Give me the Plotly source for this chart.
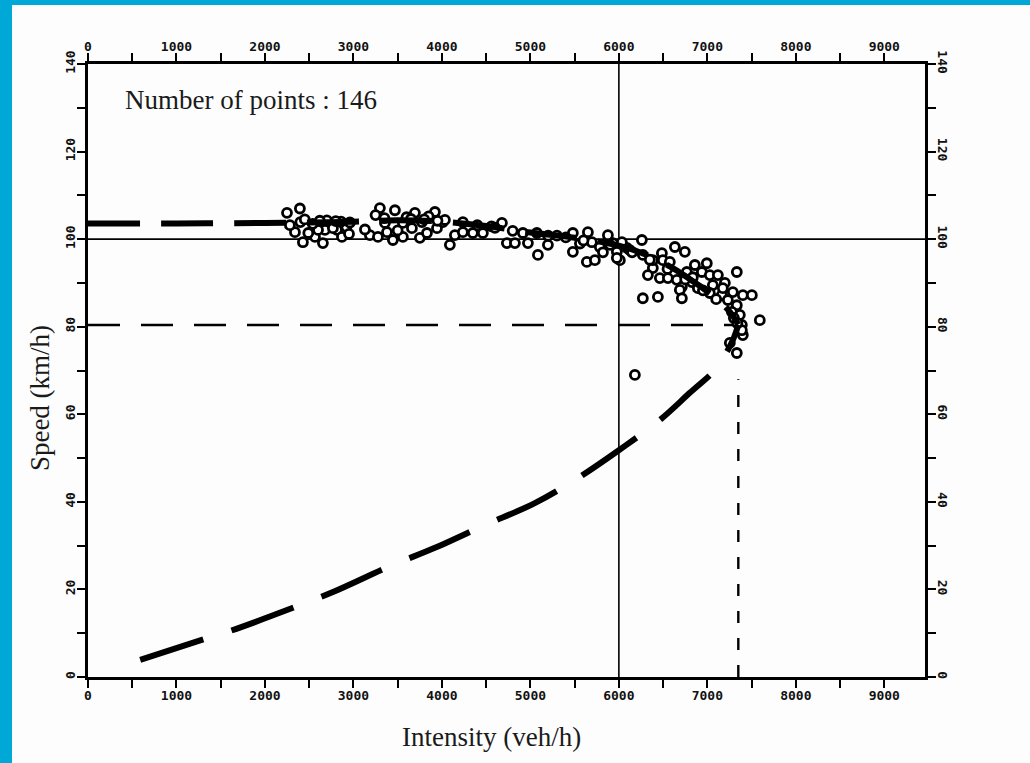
import plotly.graph_objects as go

# ---------------- data ----------------
x_ticks = [0, 1000, 2000, 3000, 4000, 5000, 6000, 7000, 8000, 9000]
x_minor = [500, 1500, 2500, 3500, 4500, 5500, 6500, 7500, 8500, 9500]
y_ticks = [0, 20, 40, 60, 80, 100, 120, 140]
y_minor = [10, 30, 50, 70, 90, 110, 130]
x_max = 9460
y_max = 140

flow_pts = [
    2249, 2395, 2339, 2429, 2655, 2565, 2814, 2870, 2678, 2768,
    2282, 2490, 2600, 2920, 2540, 2700, 2860, 2960, 2400, 2950,
    3299, 3469, 3695, 3921, 3186, 3277, 3379, 3446, 3559, 3661,
    3751, 3831, 3944, 4011, 4090, 4147, 4237, 3356, 3559, 3774,
    3250, 3600, 3850, 3130, 3500,
    4034, 4350, 4463, 4678, 4734, 4825, 4972, 5073, 5085, 5198,
    5480, 5480, 5650, 5638, 5729, 5695, 5876, 6011, 5932, 5785,
    6090, 4237, 4915, 4560, 5300, 5560, 5820,
    6633, 6746, 6486, 6497, 6576, 6384, 6328, 6463, 6554, 6655,
    6712, 6825, 6859, 6994, 6938, 7028, 7119, 7062, 7198, 7333,
    7288, 7401, 7503, 7164, 7028, 6689, 6271, 6441, 6712, 7333,
    7367, 7593, 7390, 7254, 7333, 7401, 7390, 5977, 6034, 6124,
    6260, 6271, 6384, 6768, 6836, 6893, 7175, 7232, 7277, 6181,
    5977,
    2450, 2620, 2800, 3350, 3650, 3800, 3950, 4400, 4600, 4800,
    5200, 5400, 5600, 5900, 6150, 6350, 6550, 6750, 6950, 7100,
    7300, 7340,
]
speed_pts = [
    106.0, 107.0, 101.6, 99.3, 99.1, 100.5, 102.1, 100.5, 102.1, 102.5,
    103.2, 101.4, 102.1, 102.8, 103.5, 104.3, 104.0, 103.8, 103.9, 101.2,
    107.1, 106.6, 106.0, 106.2, 100.9, 100.5, 101.6, 99.8, 100.5, 102.5,
    100.3, 101.4, 102.5, 103.9, 98.7, 100.9, 101.6, 103.7, 103.7, 103.9,
    105.5, 105.0, 105.2, 102.2, 102.0,
    104.4, 101.4, 101.4, 103.7, 99.1, 99.1, 99.1, 101.4, 96.4, 98.7,
    101.4, 97.1, 101.6, 94.8, 95.2, 99.3, 100.9, 95.2, 99.1, 98.2,
    98.0, 103.9, 101.4, 102.9, 100.8, 99.0, 97.0,
    98.2, 97.1, 96.8, 95.2, 94.8, 93.4, 91.8, 91.1, 91.1, 90.7,
    89.1, 90.2, 94.1, 94.5, 92.5, 91.8, 91.8, 89.5, 90.0, 92.5,
    87.9, 87.2, 87.2, 87.2, 87.7, 88.4, 86.5, 86.8, 86.5, 84.9,
    82.7, 81.5, 80.4, 76.3, 74.0, 78.1, 79.2, 97.1, 99.3, 97.5,
    99.8, 96.4, 95.2, 92.5, 91.3, 88.8, 88.8, 86.1, 83.4, 69.0,
    95.7,
    104.5, 104.2, 104.1, 104.8, 104.6, 104.5, 104.2, 103.2, 102.6, 101.9,
    100.8, 100.4, 99.7, 98.7, 97.0, 95.3, 93.2, 90.8, 88.3, 86.3,
    82.0, 80.8,
]

fit_upper_flow = [0, 1000, 2000, 2500, 3000, 3500, 4000, 4500, 5000, 5500,
                  6000, 6300, 6600, 6900, 7100, 7250, 7350]
fit_upper_speed = [103.6, 103.6, 103.7, 103.8, 104.0, 104.3, 104.0, 103.0, 101.5, 100.3,
                   98.5, 96.5, 93.5, 89.5, 86.5, 83.5, 80.5]
fit_lower_flow = [590, 1322, 1605, 2316, 2768, 3412, 3921, 4463, 5050, 5480,
                  6000, 6463, 6802, 7085, 7200, 7300, 7350]
fit_lower_speed = [3.9, 8.7, 10.5, 15.8, 19.4, 25.3, 29.5, 34.5, 39.7, 44.7,
                   51.8, 58.7, 64.9, 70.1, 73.5, 77.5, 80.4]

ref_speed = 100
ref_flow = 6000
crit_speed = 80.4
cap_flow = 7350
cap_line_top = 68

# ---------------- figure ----------------
fig = go.Figure()

# thin reference lines
fig.add_trace(go.Scatter(x=[0, x_max], y=[ref_speed, ref_speed], mode="lines",
                         line=dict(color="black", width=1.6), hoverinfo="skip", cliponaxis=False))
fig.add_trace(go.Scatter(x=[ref_flow, ref_flow], y=[0, y_max], mode="lines",
                         line=dict(color="black", width=1.6), hoverinfo="skip"))
# dashed critical speed / capacity lines
fig.add_trace(go.Scatter(x=[0, cap_flow], y=[crit_speed, crit_speed], mode="lines",
                         line=dict(color="black", width=2.6, dash="32px,21px"), hoverinfo="skip"))
fig.add_trace(go.Scatter(x=[cap_flow, cap_flow], y=[0, cap_line_top], mode="lines",
                         line=dict(color="black", width=2.4, dash="12px,15px"), hoverinfo="skip"))

# observations
fig.add_trace(go.Scatter(x=flow_pts, y=speed_pts, mode="markers",
                         marker=dict(symbol="circle", size=9, color="white",
                                     line=dict(color="black", width=2.8)),
                         hoverinfo="skip"))

# fitted curve
fig.add_trace(go.Scatter(x=fit_upper_flow, y=fit_upper_speed, mode="lines",
                         line=dict(color="black", width=6, dash="52px,21px", shape="spline"),
                         hoverinfo="skip", cliponaxis=False))
fig.add_trace(go.Scatter(x=fit_lower_flow, y=fit_lower_speed, mode="lines",
                         line=dict(color="black", width=6, dash="66px,30px", shape="spline"),
                         hoverinfo="skip"))

# dummy trace for top/right axes
fig.add_trace(go.Scatter(x=[None], y=[None], xaxis="x2", yaxis="y2", mode="markers",
                         showlegend=False, hoverinfo="skip"))

tick_font = dict(family="DejaVu Sans Mono", size=13, color="#111", weight="bold")
common = dict(showline=True, linewidth=2.5, linecolor="black", showgrid=False,
              zeroline=False, ticks="outside", ticklen=8, tickwidth=2, tickcolor="black",
              tickfont=tick_font, automargin=False, fixedrange=True,
              ticklabelstandoff=-3)

fig.update_layout(
    width=1030, height=763,
    margin=dict(l=88, r=105, t=64, b=86, pad=0),
    paper_bgcolor="#fdfdfd", plot_bgcolor="#fdfdfd",
    showlegend=False,
    template="none",
    xaxis=dict(range=[0, x_max], tickvals=x_ticks, tickformat="d",
               minor=dict(tickvals=x_minor, ticks="outside", ticklen=8, tickwidth=2,
                          tickcolor="black"),
               **common),
    xaxis2=dict(range=[0, x_max], tickvals=x_ticks, tickformat="d", overlaying="x",
                side="top", anchor="y",
                minor=dict(tickvals=x_minor, ticks="outside", ticklen=8, tickwidth=2,
                           tickcolor="black"),
                **common),
    yaxis=dict(range=[0, y_max], tickvals=y_ticks, tickangle=-90,
               minor=dict(tickvals=y_minor, ticks="outside", ticklen=8, tickwidth=2,
                          tickcolor="black"),
               **common),
    yaxis2=dict(range=[0, y_max], tickvals=y_ticks, tickangle=90, overlaying="y",
                side="right", anchor="x",
                minor=dict(tickvals=y_minor, ticks="outside", ticklen=8, tickwidth=2,
                           tickcolor="black"),
                **common),
)

serif = dict(family="Liberation Serif", size=27, color="#1a1a1a")
fig.add_annotation(text="Number of points : 146", xref="paper", yref="paper",
                   x=0.0418, y=0.9413, xanchor="left", yanchor="middle",
                   showarrow=False, font=serif)
fig.add_annotation(text="Intensity (veh/h)", xref="paper", yref="paper",
                   x=0.4815, y=-0.098, xanchor="center", yanchor="middle",
                   showarrow=False, font=serif)
fig.add_annotation(text="Speed (km/h)", xref="paper", yref="paper",
                   x=-0.0573, y=0.455, xanchor="center", yanchor="middle",
                   textangle=-90, showarrow=False, font=serif)

# blue frame strips (left and top)
blue = "#00A8D8"
fig.add_shape(type="rect", xref="paper", yref="paper", x0=-0.1052, x1=-0.0908,
              y0=-0.15, y1=1.11, fillcolor=blue, line=dict(width=0), layer="above")
fig.add_shape(type="rect", xref="paper", yref="paper", x0=-0.11, x1=1.13,
              y0=1.0962, y1=1.11, fillcolor=blue, line=dict(width=0), layer="above")

fig.write_html("out.html", config={"displayModeBar": False},
               post_script="document.body.style.margin='0';document.body.style.background='#fdfdfd';")
